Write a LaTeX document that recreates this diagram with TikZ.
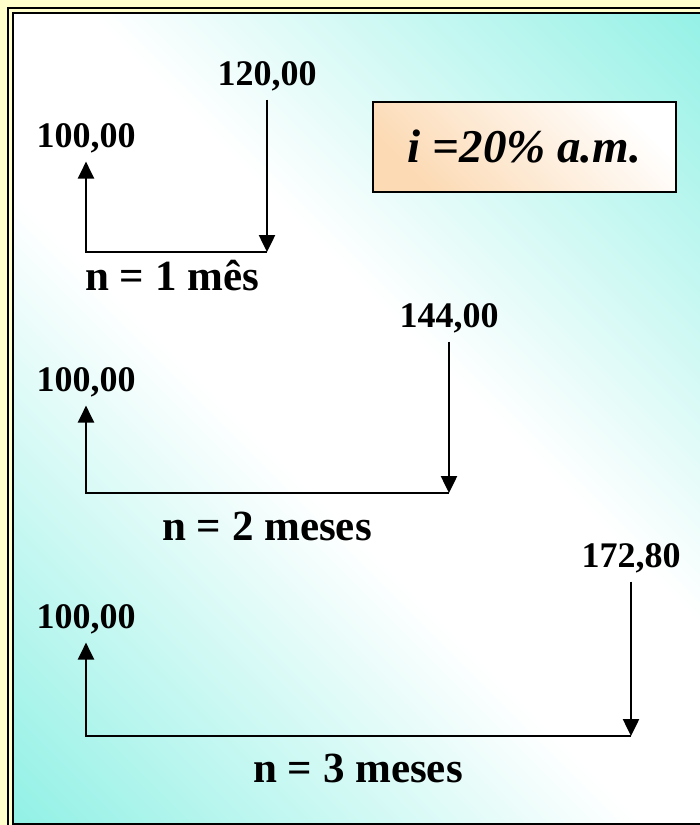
\documentclass[tikz,border=0pt]{standalone}
\usepackage{fontspec}
\setmainfont{Liberation Serif}
\usetikzlibrary{arrows.meta}

\definecolor{bgcyan}{RGB}{140,240,228}
\definecolor{framey}{RGB}{255,255,204}
\definecolor{peach}{RGB}{252,218,180}
\pgfdeclarehorizontalshading{bgshade}{100bp}{color(0bp)=(bgcyan); color(13bp)=(bgcyan); color(44bp)=(white); color(56bp)=(white); color(87bp)=(bgcyan); color(100bp)=(bgcyan)}

\begin{document}
\begin{tikzpicture}[x=1pt, y=-1pt,
    val/.style={font=\fontsize{36}{40}\selectfont\bfseries, inner sep=0pt, outer sep=9pt, anchor=base},
    per/.style={font=\fontsize{43}{47}\selectfont\bfseries, inner sep=0pt, anchor=base},
    flow/.style={-{Triangle[width=16pt,length=17pt]}, line width=2.5pt}]
    \useasboundingbox (0,0) rectangle (700,825);
    \clip (0,0) rectangle (700,825);

    % Frame and background
    \fill[framey] (0,0) rectangle (700,825);
    \shade[shading=bgshade, shading angle=45] (13,13) rectangle (720,824);
    \draw[line width=2pt] (7.5,7.5) rectangle (740,840);
    \draw[line width=2pt] (12.5,12.5) rectangle (730,823.5);

    % Rate box
    \node[draw, line width=1.5pt, top color=white, bottom color=peach, shading angle=-45, minimum width=303pt, minimum height=90pt, font=\fontsize{47}{50}\selectfont\bfseries\itshape] (taxa) at (524.5,147) {i =20\% a.m.};

    % Nodes
    \node[val] (f1) at (267,85) {120,00};
    \node[val] (p1) at (86,147) {100,00};
    \coordinate (r1) at (267,252);
    \node[per] (n1) at (172,290) {n = 1 mês};

    \node[val] (f2) at (449,327) {144,00};
    \node[val] (p2) at (86,391) {100,00};
    \coordinate (r2) at (449,493);
    \node[per] (n2) at (267,540) {n = 2 meses};

    \node[val] (f3) at (631,567) {172,80};
    \node[val] (p3) at (86,628) {100,00};
    \coordinate (r3) at (631,736);
    \node[per] (n3) at (358,782) {n = 3 meses};

    % Arrows
    \draw[flow] (f1) -- (r1);
    \draw[flow] (r1) -| (p1);
    \draw[flow] (f2) -- (r2);
    \draw[flow] (r2) -| (p2);
    \draw[flow] (f3) -- (r3);
    \draw[flow] (r3) -| (p3);
\end{tikzpicture}
\end{document}
